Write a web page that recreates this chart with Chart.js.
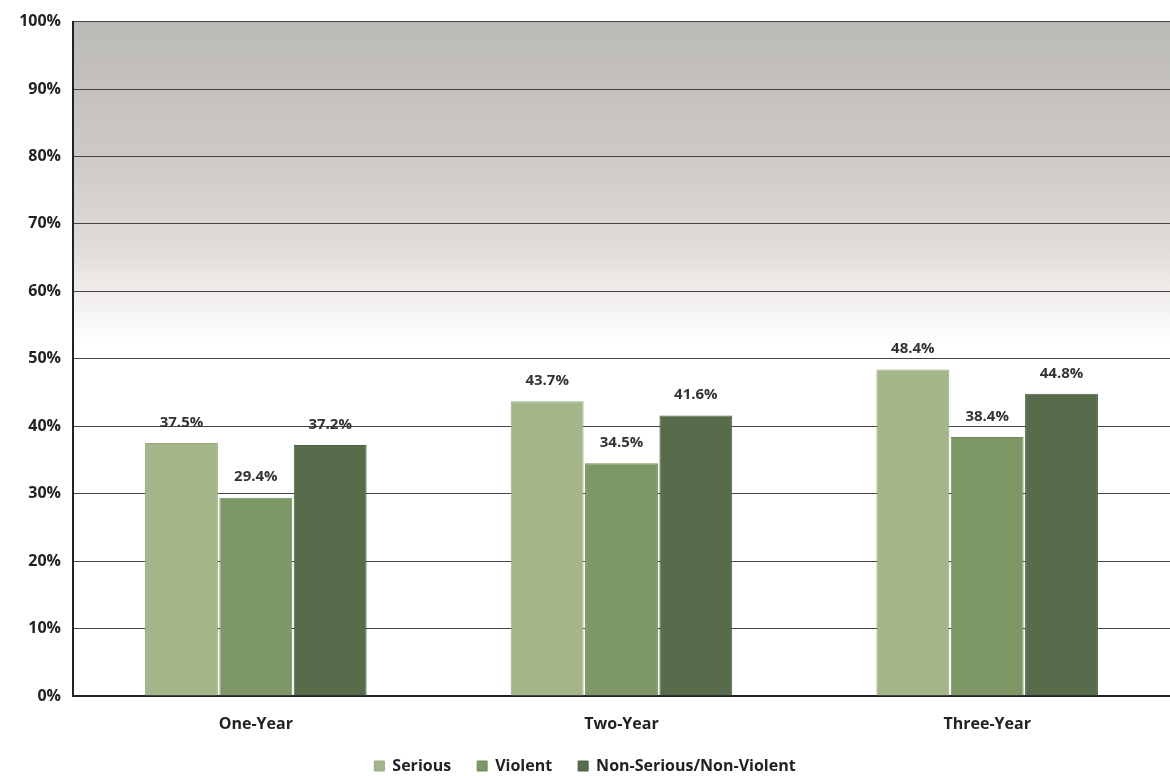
<!DOCTYPE html>
<html><head><meta charset="utf-8">
<script src="https://cdn.jsdelivr.net/npm/chart.js@4"></script>
<style>html,body{margin:0;padding:0;background:#fff}#wrap{width:1170px;height:776px}</style>
</head><body><div id="wrap"><canvas id="c" width="1170" height="776"></canvas></div>
<script>
const categories = ["One-Year", "Two-Year", "Three-Year"];
const serious = [37.5, 43.7, 48.4];
const violent = [29.4, 34.5, 38.4];
const nonSerious = [37.2, 41.6, 44.8];
const seriesNames = ["Serious", "Violent", "Non-Serious/Non-Violent"];
const yTicks = [0,10,20,30,40,50,60,70,80,90,100];

const FONT = "'Open Sans', Lato, sans-serif";

const bgPlugin = {
  id: 'bg',
  afterInit(chart) {
    const lg = chart.legend;
    if (lg) {
      const orig = lg.fit;
      lg.fit = function() { orig.call(this); this.height = 44; };
    }
  },
  beforeDraw(chart) {
    const {ctx, chartArea: a} = chart;
    const g = ctx.createLinearGradient(0, a.top, 0, a.bottom);
    g.addColorStop(0, '#bcbab7');
    g.addColorStop(0.2, '#ccc9c6');
    g.addColorStop(0.34, '#e2dddb');
    g.addColorStop(0.43, '#f6f4f3');
    g.addColorStop(0.48, '#ffffff');
    g.addColorStop(1, '#ffffff');
    ctx.save();
    ctx.fillStyle = g;
    ctx.fillRect(a.left, a.top, a.right - a.left, a.bottom - a.top);
    ctx.restore();
  }
};

const labelPlugin = {
  id: 'lbl',
  afterDatasetsDraw(chart) {
    const ctx = chart.ctx;
    ctx.save();
    ctx.font = "bold 15px " + FONT;
    ctx.fillStyle = '#333';
    ctx.textAlign = 'center';
    ctx.textBaseline = 'bottom';
    chart.data.datasets.forEach((ds, i) => {
      chart.getDatasetMeta(i).data.forEach((bar, j) => {
        ctx.fillText(ds.data[j].toFixed(1) + '%', bar.x, bar.y - 13);
      });
    });
    ctx.restore();
  }
};

new Chart(document.getElementById('c'), {
  type: 'bar',
  data: {
    labels: categories,
    datasets: [
      {label: seriesNames[0], data: serious, backgroundColor: '#a4b58a', borderColor:'#98aa7e', borderWidth:1},
      {label: seriesNames[1], data: violent, backgroundColor: '#7d9866', borderColor:'#728d5c', borderWidth:1},
      {label: seriesNames[2], data: nonSerious, backgroundColor: '#566c4b', borderColor:'#4b6142', borderWidth:1}
    ]
  },
  options: {
    responsive: false,
    animation: false,
    layout: {padding: {top: -2, right: 0, left: 0, bottom: 0}},
    datasets: {bar: {categoryPercentage: 0.61, barPercentage: 0.98}},
    scales: {
      x: {
        afterFit(s) { s.height = 36; },
        grid: {display: false, drawTicks: false},
        border: {color: '#222', width: 2},
        ticks: {color: '#222', font: {family: FONT, size: 16, weight: 'bold'}, padding: 19}
      },
      y: {
        min: 0, max: 100,
        afterFit(s) { s.width = 73; },
        afterBuildTicks(s) { s.ticks = yTicks.map(v => ({value: v})); },
        grid: {color: '#444', lineWidth: 1, drawTicks: false},
        border: {color: '#222', width: 2},
        ticks: {color: '#222', font: {family: FONT, size: 16, weight: 'bold'}, padding: 12,
          callback: v => v + '%'}
      }
    },
    plugins: {
      legend: {
        position: 'bottom',
        labels: {boxWidth: 10, boxHeight: 10, padding: 26, color: '#222',
          font: {family: FONT, size: 16, weight: 'bold'}}
      },
      tooltip: {enabled: false}
    }
  },
  plugins: [bgPlugin, labelPlugin]
});
</script></body></html>
